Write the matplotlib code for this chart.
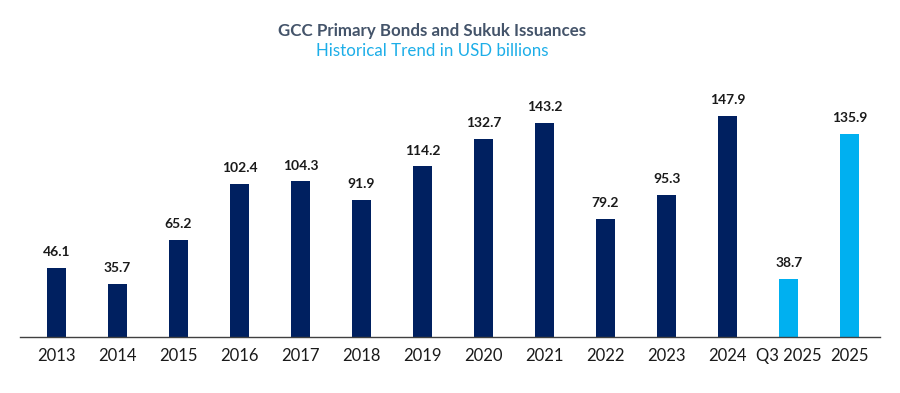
import matplotlib
matplotlib.use("Agg")
import matplotlib.pyplot as plt

categories = ["2013", "2014", "2015", "2016", "2017", "2018", "2019", "2020",
              "2021", "2022", "2023", "2024", "Q3 2025", "2025"]
values = [46.1, 35.7, 65.2, 102.4, 104.3, 91.9, 114.2, 132.7, 143.2, 79.2,
          95.3, 147.9, 38.7, 135.9]
labels = ["46.1", "35.7", "65.2", "102.4", "104.3", "91.9", "114.2", "132.7",
          "143.2", "79.2", "95.3", "147.9", "38.7", "135.9"]
title = "GCC Primary Bonds and Sukuk Issuances"
subtitle = "Historical Trend in USD billions"

NAVY = "#002060"
LIGHT = "#00B0F0"
colors = [NAVY] * 12 + [LIGHT] * 2

plt.rcParams['font.family'] = ['Lato', 'DejaVu Sans']

fig = plt.figure(figsize=(9, 3.93), dpi=100)
ax = fig.add_axes([0.022, 0.1425, 0.956, 0.608])
x = list(range(len(categories)))
bars = ax.bar(x, values, width=0.31, color=colors)
for xi, v, lab in zip(x, values, labels):
    ax.annotate(lab, (xi, v), xytext=(0, 7), textcoords="offset points",
                ha="center", va="bottom", fontsize=10, fontweight="bold",
                color="#1a1a1a")
ax.set_xlim(-0.6, 13.5)
ax.set_ylim(0, 160)
ax.set_xticks(x)
ax.set_xticklabels(categories, fontsize=12, color="#1a1a1a")
ax.tick_params(axis="x", length=0, pad=8)
ax.set_yticks([])
for s in ["top", "right", "left"]:
    ax.spines[s].set_visible(False)
ax.spines["bottom"].set_color("#404040")
ax.spines["bottom"].set_linewidth(1.0)

fig.text(0.4805, 0.92, title, ha="center", va="center", fontsize=12.2,
         fontweight="bold", color="#44546A")
fig.text(0.4805, 0.87, subtitle, ha="center", va="center", fontsize=12.2,
         color="#1DAEE8")

fig.savefig("out.png", dpi=100)
